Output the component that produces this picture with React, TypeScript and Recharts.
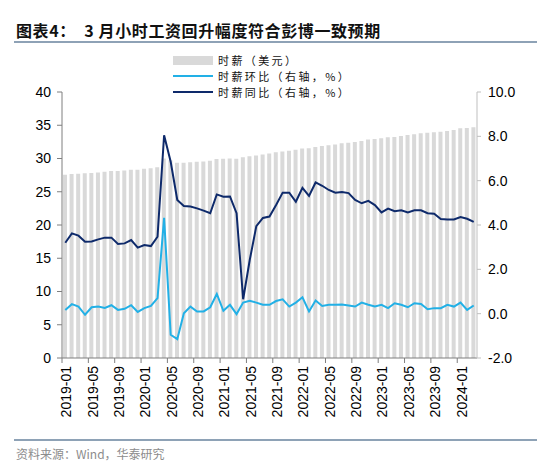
import { ComposedChart, Bar, Line, XAxis, YAxis } from 'recharts';

// monthly labels 2019-01 .. 2024-03
const months = [
  '2019-01', '2019-02', '2019-03', '2019-04', '2019-05', '2019-06', '2019-07', '2019-08', '2019-09', '2019-10', '2019-11', '2019-12',
  '2020-01', '2020-02', '2020-03', '2020-04', '2020-05', '2020-06', '2020-07', '2020-08', '2020-09', '2020-10', '2020-11', '2020-12',
  '2021-01', '2021-02', '2021-03', '2021-04', '2021-05', '2021-06', '2021-07', '2021-08', '2021-09', '2021-10', '2021-11', '2021-12',
  '2022-01', '2022-02', '2022-03', '2022-04', '2022-05', '2022-06', '2022-07', '2022-08', '2022-09', '2022-10', '2022-11', '2022-12',
  '2023-01', '2023-02', '2023-03', '2023-04', '2023-05', '2023-06', '2023-07', '2023-08', '2023-09', '2023-10', '2023-11', '2023-12',
  '2024-01', '2024-02', '2024-03',
];

// 时薪（美元）
const wage = [
  27.56, 27.66, 27.7, 27.77, 27.83, 27.9, 28.0, 28.11, 28.12, 28.2, 28.29, 28.32,
  28.44, 28.52, 28.7, 30.01, 29.72, 29.36, 29.35, 29.44, 29.5, 29.55, 29.65, 29.91,
  29.96, 30.01, 29.97, 30.19, 30.33, 30.45, 30.62, 30.76, 30.93, 31.06, 31.17, 31.31,
  31.51, 31.56, 31.72, 31.88, 32.0, 32.12, 32.28, 32.38, 32.49, 32.63, 32.84, 32.93,
  33.06, 33.19, 33.25, 33.4, 33.53, 33.65, 33.79, 33.86, 33.96, 34.03, 34.13, 34.27,
  34.55, 34.57, 34.69,
];

// 时薪环比（右轴，%）
const wageMom = [
  0.17, 0.43, 0.32, -0.05, 0.29, 0.32, 0.26, 0.38, 0.17, 0.22, 0.38, 0.08,
  0.25, 0.35, 0.7, 4.32, -0.95, -1.15, 0.02, 0.32, 0.1, 0.1, 0.29, 0.89,
  0.13, 0.4, -0.02, 0.5, 0.58, 0.5, 0.4, 0.4, 0.57, 0.65, 0.32, 0.5,
  0.74, 0.1, 0.59, 0.35, 0.4, 0.4, 0.41, 0.37, 0.32, 0.5, 0.4, 0.32,
  0.4, 0.25, 0.47, 0.4, 0.29, 0.47, 0.44, 0.2, 0.25, 0.25, 0.4, 0.32,
  0.5, 0.17, 0.37,
];

// 时薪同比（右轴，%）
const wageYoy = [
  3.2, 3.62, 3.52, 3.25, 3.26, 3.35, 3.43, 3.43, 3.14, 3.17, 3.32, 2.98,
  3.1, 3.05, 3.47, 8.05, 6.85, 5.13, 4.86, 4.83, 4.75, 4.65, 4.53, 5.38,
  5.28, 5.29, 4.53, 0.65, 2.42, 3.95, 4.32, 4.38, 4.9, 5.46, 5.46, 5.05,
  5.68, 5.31, 5.92, 5.77, 5.58, 5.46, 5.49, 5.44, 5.13, 4.98, 5.09, 4.9,
  4.57, 4.74, 4.62, 4.66, 4.57, 4.66, 4.66, 4.53, 4.51, 4.27, 4.25, 4.25,
  4.36, 4.28, 4.14,
];

const leftTicks = [0, 5, 10, 15, 20, 25, 30, 35, 40];
const rightTicks = [-2, 0, 2, 4, 6, 8, 10];

const legendItems = ['时薪（美元）', '时薪环比（右轴，%）', '时薪同比（右轴，%）'];

const data = months.map((m, i) => ({ month: m, wage: wage[i], mom: wageMom[i], yoy: wageYoy[i] }));

const FONT = '"Liberation Sans", Arial, sans-serif';
const CJK = '"Noto Sans CJK SC", "Noto Sans", sans-serif';
const W = 550;
const H = 469;
const PLOT_LEFT = 62;
const PLOT_RIGHT = 477;
const HALF_BAND = (PLOT_RIGHT - PLOT_LEFT) / months.length / 2;

const MonthTick = (props: any) => {
  const { x, y, payload } = props;
  const axisY = y - 8;
  return (
    <g>
      <line x1={x - HALF_BAND} y1={axisY} x2={x - HALF_BAND} y2={axisY + 5} stroke="#7f7f7f" />
      <text
        x={x + 1}
        y={axisY + 8}
        transform={`rotate(-90, ${x + 1}, ${axisY + 8})`}
        textAnchor="end"
        dominantBaseline="central"
        fontSize={14}
        fontFamily={FONT}
        fill="#000"
      >
        {payload.value}
      </text>
    </g>
  );
};

export default function App() {
  const legendStyle = (top: number) => ({
    position: 'absolute' as const,
    left: 218,
    top,
    fontFamily: CJK,
    fontSize: 11,
    letterSpacing: 2.4,
    lineHeight: '16px',
    height: 16,
    color: '#111',
    whiteSpace: 'nowrap' as const,
  });
  return (
    <div style={{ position: 'absolute', left: 0, top: 0, width: W, height: H, background: '#fff', overflow: 'hidden' }}>
      <div style={{ position: 'absolute', left: 16, top: 18, fontFamily: CJK, fontWeight: 700, fontSize: 16, letterSpacing: 0.6, color: '#111', whiteSpace: 'pre' }}>
        图表4：  3 月小时工资回升幅度符合彭博一致预期
      </div>
      <div style={{ position: 'absolute', left: 14, top: 41, width: 523, height: 2, background: '#8ea2b6' }} />

      <ComposedChart
        width={W}
        height={H}
        data={data}
        margin={{ top: 92, right: 0, bottom: 0, left: 0 }}
        style={{ position: 'absolute', left: 0, top: 0 }}
      >
        <XAxis
          dataKey="month"
          interval={3}
          height={111}
          axisLine={{ stroke: '#7f7f7f' }}
          tickLine={false}
          tick={<MonthTick />}
        />
        <YAxis
          yAxisId="left"
          domain={[0, 40]}
          ticks={leftTicks}
          width={PLOT_LEFT}
          axisLine={{ stroke: '#7f7f7f' }}
          tickLine={{ stroke: '#7f7f7f' }}
          tickSize={5}
          tickMargin={6}
          tick={{ fontSize: 14, fontFamily: FONT, fill: '#000' }}
        />
        <YAxis
          yAxisId="right"
          orientation="right"
          domain={[-2, 10]}
          ticks={rightTicks}
          width={W - PLOT_RIGHT}
          axisLine={{ stroke: '#bfbfbf' }}
          tickLine={{ stroke: '#bfbfbf' }}
          tickSize={4}
          tickMargin={7}
          tickFormatter={(v: number) => v.toFixed(1)}
          tick={{ fontSize: 14, fontFamily: FONT, fill: '#000' }}
        />
        <Bar yAxisId="left" dataKey="wage" fill="#d9d9d9" barSize={4} isAnimationActive={false} />
        <Line yAxisId="right" dataKey="mom" stroke="#22b0e6" strokeWidth={2} dot={false} isAnimationActive={false} />
        <Line yAxisId="right" dataKey="yoy" stroke="#0e2a6b" strokeWidth={2} dot={false} isAnimationActive={false} />
      </ComposedChart>

      {/* legend */}
      <div style={{ position: 'absolute', left: 173, top: 56, width: 40, height: 9, background: '#d9d9d9' }} />
      <div style={{ position: 'absolute', left: 173, top: 75, width: 40, height: 2, background: '#22b0e6' }} />
      <div style={{ position: 'absolute', left: 173, top: 91, width: 40, height: 2, background: '#0e2a6b' }} />
      <div style={legendStyle(52)}>{legendItems[0]}</div>
      <div style={legendStyle(68)}>{legendItems[1]}</div>
      <div style={legendStyle(84)}>{legendItems[2]}</div>

      <div style={{ position: 'absolute', left: 14, top: 439, width: 523, height: 1.5, background: '#8ea2b6' }} />
      <div style={{ position: 'absolute', left: 16, top: 445, fontFamily: CJK, fontSize: 12, color: '#8c8c8c' }}>
        资料来源：Wind，华泰研究
      </div>
    </div>
  );
}
